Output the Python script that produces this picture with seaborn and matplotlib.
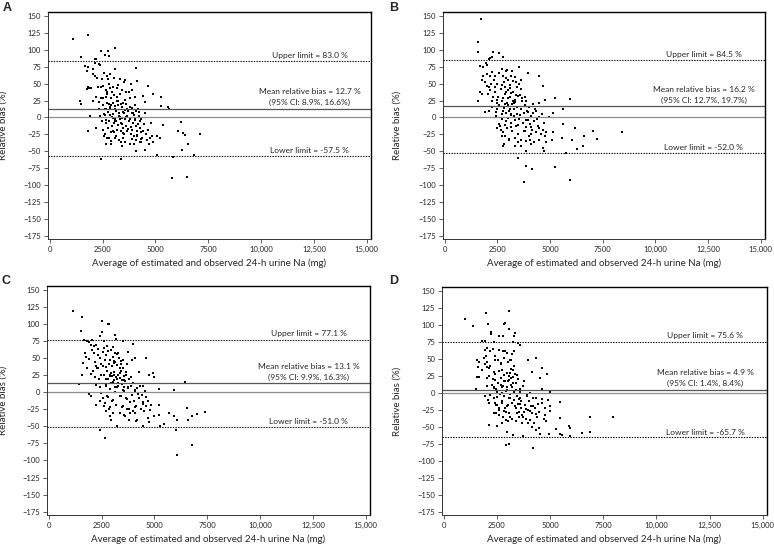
import matplotlib
matplotlib.use("Agg")
import matplotlib.pyplot as plt
import pandas as pd
import seaborn as sns

sns.set_style("ticks")
plt.rcParams["font.family"] = ["Lato", "DejaVu Sans"]

# (mean of estimated & observed Na in mg, relative bias in %)
panel_a_points = [
    (1120, 116), (1790, 122), (3070, 103), (2430, 99), (2760, 98), (2620, 92), (2820, 91), (1480, 90),
    (2120, 87), (2180, 87), (2150, 81), (1680, 76), (1810, 74), (2310, 79), (2390, 77), (3100, 72),
    (4070, 73), (2070, 72), (1780, 69), (2030, 64), (2150, 62), (2560, 66), (2700, 62), (2850, 64),
    (3030, 59), (3310, 57), (3500, 52), (3560, 55), (4150, 54), (2460, 57), (2780, 57), (2250, 59),
    (1810, 45), (1840, 43), (1970, 44), (1780, 42), (2430, 45), (2540, 47), (2850, 44), (3170, 44),
    (3400, 40), (3840, 50), (3900, 40), (4660, 46), (2670, 40), (2930, 37), (3310, 34), (3730, 37),
    (2070, 24), (2310, 23), (2540, 28), (2730, 34), (4410, 32), (4880, 34), (5260, 30), (1440, 25),
    (1480, 20), (2820, 20), (3010, 21), (3170, 24), (3560, 26), (4020, 30), (4490, 23), (3090, 17),
    (3240, 18), (2670, 12), (2870, 12), (5270, 17), (5580, 16), (5630, 13), (3680, 12), (3900, 7),
    (4210, 8), (4490, 6), (1890, 2), (2620, 4), (2930, 1), (3320, 1), (3630, 0), (4020, -2),
    (4340, -3), (4800, -8), (2670, -4), (3090, -6), (3400, -10), (3840, -14), (1790, -20), (2200, -15),
    (2540, -18), (3010, -20), (3480, -23), (3900, -18), (5350, -11), (6070, -20), (6210, -7), (6300, -23),
    (6380, -26), (7130, -25), (2570, -27), (2810, -31), (3090, -31), (3480, -31), (4150, -28), (4370, -30),
    (4840, -27), (5090, -28), (5200, -31), (2670, -40), (2900, -40), (3370, -36), (3400, -43), (3810, -40),
    (4000, -40), (4340, -37), (4490, -49), (4700, -40), (4880, -36), (4100, -50), (2420, -62), (3370, -61),
    (5090, -56), (5820, -59), (6520, -40), (6260, -49), (6830, -56), (5800, -89), (6490, -88),
    (2650, 30), (2700, 22), (2750, 8), (2800, -5), (2850, 15), (2900, 28), (2950, -12), (3000, 5),
    (3050, 33), (3100, -3), (3150, 10), (3200, -18), (3250, 25), (3300, 2), (3350, -8), (3400, 15),
    (3450, -15), (3500, 6), (3550, -2), (3600, 20), (3650, -20), (3700, 9), (3750, -6), (3800, 28),
    (3850, -25), (3900, 14), (3950, -9), (4000, 3), (4050, 18), (4100, -12), (4150, -20), (4200, 12),
    (4250, -5), (4300, -22), (2600, 12), (2680, -8), (2720, 38), (2780, -15), (2830, 3), (2880, -22),
    (2920, 18), (2980, -1), (3020, -9), (3080, 12), (3130, -6), (3180, 30), (3230, -11), (3280, 7),
    (3320, -3), (3380, 20), (3430, -1), (3480, 8), (3530, -24), (3580, 11), (3620, -12), (3680, 2),
    (3720, -17), (3780, 16), (3820, -2), (3880, -19), (3930, 6), (3980, -28), (4030, -4), (4080, 10),
    (4130, -26), (4180, -10), (4230, 2), (4280, -15), (4330, -32), (4400, -20), (4450, -10), (4550, -25),
    (4600, -33), (4650, -18), (4750, -30), (2550, 5), (2500, 18), (2450, 28), (2400, 2), (2350, 12),
    (2480, -6), (2600, -25), (2700, -30), (2900, -35), (3150, -28), (3300, -33), (3550, -36), (3000, 45),
    (3250, 48), (3600, 38), (2800, 50), (3900, -32), (4100, -34), (4250, -37), (2300, 45), (2200, 30),
    (3450, 22), (3050, -22), (3350, -20),
]

panel_b_points = [
    (1720, 145), (1580, 111), (1580, 97), (1580, 24), (2280, 97), (2560, 95), (2790, 89), (2150, 88),
    (2230, 89), (2090, 86), (1670, 76), (1810, 74), (1970, 80), (2030, 77), (3520, 75), (3950, 66),
    (4480, 61), (1810, 61), (2000, 64), (2260, 67), (2390, 61), (2710, 71), (2930, 68), (3210, 68),
    (3400, 53), (3640, 56), (1760, 56), (1920, 52), (2000, 47), (2500, 49), (2850, 45), (4650, 46),
    (1690, 38), (1790, 35), (2150, 40), (2390, 37), (2930, 38), (3170, 36), (3590, 33), (3790, 30),
    (5230, 29), (5930, 27), (2230, 25), (2470, 26), (2700, 24), (3010, 28), (3320, 23), (4180, 20),
    (4490, 22), (4760, 26), (1920, 8), (2080, 9), (2470, 13), (2750, 10), (2930, 7), (3170, 5),
    (3560, 4), (3950, 8), (4340, 9), (5150, 6), (5620, 13), (2430, 2), (2700, -2), (3010, -1),
    (3320, -4), (3870, -4), (4490, 1), (4960, 0), (2620, -12), (2860, -11), (3170, -14), (3480, -11),
    (2460, -15), (3790, -20), (4100, -14), (4490, -16), (4800, -21), (5160, -21), (5630, -10), (6180, -15),
    (7050, -20), (7210, -32), (8420, -21), (2730, -27), (2820, -40), (2780, -42), (3030, -33), (3340, -42),
    (3480, -36), (3640, -43), (3840, -50), (4060, -34), (4230, -36), (4490, -34), (4650, -45), (4700, -50),
    (4800, -36), (5090, -33), (5590, -31), (6050, -33), (5770, -52), (6300, -47), (6580, -43), (6610, -27),
    (3460, -60), (3840, -72), (4120, -76), (5240, -74), (3740, -96), (5970, -92),
    (2550, 30), (2600, 18), (2650, 42), (2700, 5), (2750, 28), (2800, 14), (2850, 35), (2900, -5),
    (2950, 22), (3000, 40), (3050, 10), (3100, 30), (3150, -8), (3200, 20), (3250, 38), (3300, 2),
    (3350, 26), (3400, -12), (3450, 15), (3500, 32), (3550, -3), (3600, 12), (3650, 24), (3700, -9),
    (3750, 6), (3800, 18), (3850, -14), (3900, 9), (3950, -4), (4000, 15), (4050, -10), (4100, 2),
    (4150, -18), (4200, 7), (4250, -6), (4300, 12), (4350, -22), (4400, -2), (4450, -12), (4550, -25),
    (4600, 5), (4650, -18), (4700, -8), (4750, -28), (2500, 22), (2450, 8), (2400, 45), (2350, 55),
    (2300, 30), (2250, 15), (2200, 50), (2150, 62), (2100, 45), (2050, 35), (2580, -10), (2680, -18),
    (2780, -22), (2880, 20), (2980, -15), (3080, 44), (3180, -20), (3280, 12), (3380, 33), (3480, -25),
    (3580, 4), (3680, 28), (3780, -20), (3880, 25), (3980, -28), (4080, -24), (2720, 48), (2820, 52),
    (2920, 58), (3020, 55), (3120, 48), (3220, 54), (3320, 60), (3420, 45), (3520, 50), (3620, 42),
    (2600, 65), (2750, 62), (2950, 70), (3150, 62), (3350, -30), (3600, -33), (3850, -35), (4100, -40),
    (2850, -28), (3050, -32), (3250, 25), (3000, 18), (3100, 12), (3300, 22), (3450, 5), (3150, 3),
]

panel_c_points = [
    (1150, 119), (1560, 110), (1510, 90), (2520, 105), (2800, 100), (2860, 100), (2530, 88), (2410, 82),
    (3160, 84), (3190, 78), (2640, 76), (3520, 76), (1680, 77), (1820, 75), (1930, 74), (2060, 77),
    (2250, 69), (2010, 69), (2140, 68), (2340, 64), (2560, 59), (3050, 66), (3300, 58), (3980, 71),
    (3760, 59), (1700, 57), (1780, 52), (1900, 49), (1620, 43), (1820, 36), (1590, 25), (2250, 39),
    (2330, 36), (2480, 41), (2720, 37), (2920, 47), (3110, 43), (3430, 46), (3690, 41), (3950, 47),
    (4060, 51), (4610, 50), (4290, 30), (2010, 27), (2170, 23), (2480, 26), (2720, 20), (2880, 24),
    (3110, 26), (3350, 21), (3580, 18), (3900, 23), (4750, 25), (4950, 28), (5000, 23), (1430, 12),
    (2250, 11), (2410, 8), (2720, 10), (2960, 14), (3220, 8), (3510, 4), (3740, 6), (4060, 4),
    (4450, 9), (5200, 5), (5910, 4), (6430, 15), (1930, -3), (2010, -6), (2480, -1), (2800, -7),
    (3030, -11), (3350, -6), (3660, -8), (4210, -3), (4610, -7), (2410, -13), (2640, -20), (2880, -21),
    (3510, -20), (3690, -25), (4060, -21), (4450, -17), (4840, -18), (5230, -18), (2220, -19), (2720, -28),
    (2880, -35), (2960, -40), (3240, -49), (3550, -33), (3820, -40), (4170, -40), (4450, -49), (4680, -38),
    (4760, -44), (5000, -35), (5230, -33), (5270, -49), (5470, -46), (5690, -30), (5930, -35), (6020, -55),
    (6070, -40), (6520, -23), (6600, -40), (6770, -35), (7010, -32), (7400, -29), (2440, -56), (2670, -67),
    (6080, -92), (6780, -78),
    (2550, 38), (2600, 25), (2650, 48), (2700, 12), (2750, 32), (2800, 20), (2850, 42), (2900, 5),
    (2950, 28), (3000, 38), (3050, 15), (3100, 30), (3150, 0), (3200, 22), (3250, 40), (3300, 10),
    (3350, 28), (3400, -5), (3450, 18), (3500, 35), (3550, 2), (3600, 16), (3650, 26), (3700, -10),
    (3750, 8), (3800, 20), (3850, -14), (3900, 10), (3950, -4), (4000, 14), (4050, -12), (4100, 2),
    (4150, -20), (4200, 6), (4250, -8), (4300, 10), (4350, -24), (4400, -4), (4450, -14), (4500, -28),
    (4550, 2), (4600, -20), (4700, -12), (4800, -26), (2450, 50), (2400, 20), (2350, 55), (2300, 35),
    (2200, 45), (2150, 58), (2100, 32), (2050, 62), (2580, -8), (2680, -15), (2780, -5), (2880, 26),
    (2980, -12), (3080, 46), (3180, -18), (3280, 14), (3380, 36), (3480, -22), (3580, 8), (3680, 30),
    (3780, -24), (3880, 22), (3980, -28), (4080, -30), (2720, 55), (2820, 60), (2920, 48), (3020, 52),
    (3120, 44), (3220, 56), (3320, 50), (3420, 42), (3520, 47), (2600, 65), (2780, 68), (2950, 62),
    (3150, 58), (3350, -30), (3600, -35), (3850, -30), (4150, -42), (2850, -25), (3050, -30), (3250, 20),
    (3000, 24), (3100, 18), (3300, 26), (3450, 12), (3150, 8), (3400, 32), (3550, 24),
]

panel_d_points = [
    (1020, 109), (1370, 98), (2010, 118), (3060, 121), (2070, 101), (2830, 101), (2860, 103), (2210, 89),
    (2240, 87), (2590, 84), (3080, 94), (2810, 84), (3340, 88), (3310, 84), (1920, 77), (1810, 76),
    (2360, 75), (3490, 74), (3610, 70), (3270, 75), (2040, 66), (1960, 63), (2170, 61), (2310, 64),
    (2590, 63), (2780, 61), (2980, 59), (3300, 61), (1550, 49), (1650, 46), (1880, 52), (2040, 46),
    (2430, 49), (2690, 44), (3140, 49), (3970, 48), (4360, 52), (4600, 36), (1630, 38), (1810, 34),
    (2120, 36), (2360, 31), (2750, 34), (2980, 29), (3250, 33), (3450, 26), (4160, 31), (4870, 28),
    (4510, 22), (1570, 24), (1680, 24), (2040, 22), (2430, 19), (2830, 17), (3060, 19), (3380, 14),
    (3770, 17), (4630, 6), (5020, 2), (1520, 5), (2040, 10), (2360, 7), (2750, 8), (2980, 4),
    (3220, 8), (3580, 2), (4080, 0), (1960, -5), (2200, -3), (2510, -6), (2830, -5), (3140, -8),
    (3530, -9), (3930, -5), (4320, -8), (4630, -9), (4910, -10), (2150, -15), (2460, -18), (2750, -15),
    (2980, -19), (3380, -23), (3610, -16), (3850, -24), (4190, -20), (4440, -16), (4740, -23), (4980, -19),
    (5020, -27), (5450, -14), (2360, -30), (2590, -32), (2830, -27), (3140, -35), (3450, -30), (3720, -36),
    (4050, -27), (4320, -31), (4760, -32), (5460, -37), (2120, -47), (2510, -49), (2750, -45), (3030, -41),
    (3690, -44), (4160, -50), (4360, -54), (4470, -52), (4790, -42), (2970, -58), (3250, -62), (3750, -63),
    (4550, -61), (4970, -61), (5280, -53), (5460, -60), (5540, -62), (5890, -49), (5930, -64), (6480, -59),
    (6860, -36), (6860, -57), (7960, -36), (2920, -77), (3060, -75), (4220, -81), (5950, -52),
    (2300, 20), (2350, -8), (2400, 28), (2450, 5), (2500, -18), (2550, 15), (2600, 32), (2650, -2),
    (2700, 22), (2750, -12), (2800, 10), (2850, 26), (2900, -22), (2950, 3), (3000, 18), (3050, -8),
    (3100, 30), (3150, 12), (3200, -15), (3250, 24), (3300, 2), (3350, -20), (3400, 14), (3450, -5),
    (3500, 20), (3550, -28), (3600, 6), (3650, -12), (3700, -32), (3750, 10), (3800, -18), (3850, -38),
    (3900, -2), (3950, -25), (4000, -12), (4050, -40), (4100, -20), (4150, -30), (4200, -8), (4250, -45),
    (4300, -22), (4400, -35), (4500, -28), (4600, -15), (4700, -38), (2200, 40), (2250, 12), (2150, 25),
    (2100, -10), (2050, 38), (2000, 55), (1950, 42), (2400, 55), (2550, 48), (2700, 42), (2850, 52),
    (3000, 45), (3150, 48), (3300, 40), (2480, -30), (2620, -25), (2780, -35), (2920, -40), (3080, -30),
    (3220, -38), (3380, -42), (3520, -35), (3680, -45), (2380, 8), (2520, 2), (2680, 12), (2820, -5),
    (2980, 8), (3120, -2), (3280, 15), (3420, 4), (3580, -8), (2420, -15), (2580, -22), (2720, 0),
    (2880, 18), (3020, -18), (3180, 22), (3320, -10), (3480, -16), (3620, -22), (3780, -28), (3950, -45),
    (2900, 62), (3200, 58), (3150, 35), (3050, 25), (3250, 33), (2950, -28), (3350, 28),
]

panel_letters = ["A", "B", "C", "D"]
mean_bias = [12.7, 16.2, 13.1, 4.9]
ci_low = [8.9, 12.7, 9.9, 1.4]
ci_high = [16.6, 19.7, 16.3, 8.4]
upper_limit = [83.0, 84.5, 77.1, 75.6]
lower_limit = [-57.5, -52.0, -51.0, -65.7]

x_ticks = [0, 2500, 5000, 7500, 10000, 12500, 15000]
x_tick_labels = ["0", "2500", "5000", "7500", "10,000", "12,500", "15,000"]
y_ticks = list(range(-175, 151, 25))

W, H = 774, 547
# axes boxes in pixels: left, top, right, bottom
boxes = [(48, 12, 371, 239), (443, 12, 765, 239), (47, 286, 370, 515), (442, 287, 767, 515)]
letter_pos = [(3, 2), (389, 2), (1, 275), (389, 275)]
ylabel_px = [8, 402, 8, 402]

fig = plt.figure(figsize=(W / 100, H / 100), dpi=100)
all_points = [panel_a_points, panel_b_points, panel_c_points, panel_d_points]

for i, pts in enumerate(all_points):
    l, t, r, b = boxes[i]
    ax = fig.add_axes([l / W, 1 - b / H, (r - l) / W, (b - t) / H])
    df = pd.DataFrame(pts, columns=["avg", "bias"])
    sns.scatterplot(data=df, x="avg", y="bias", ax=ax, color="black", marker="s",
                    s=1.7, linewidth=0)

    ax.axhline(0, color="#8f8f8f", lw=0.9)
    ax.axhline(mean_bias[i], color="#555555", lw=0.9)
    ax.axhline(upper_limit[i], color="black", lw=0.8, ls=(0, (1.2, 1.2)))
    ax.axhline(lower_limit[i], color="black", lw=0.8, ls=(0, (1.2, 1.2)))

    tx = 12300
    fs = 6
    ax.text(tx, upper_limit[i] + 9, f"Upper limit = {upper_limit[i]:.1f} %", ha="center", va="center", fontsize=fs)
    ax.text(tx, lower_limit[i] + 8, f"Lower limit = {lower_limit[i]:.1f} %", ha="center", va="center", fontsize=fs)
    ax.text(tx, mean_bias[i] + 25, f"Mean relative bias = {mean_bias[i]:.1f} %", ha="center", va="center", fontsize=fs)
    ax.text(tx, mean_bias[i] + 9.5, f"(95% CI: {ci_low[i]:.1f}%, {ci_high[i]:.1f}%)", ha="center", va="center", fontsize=fs)

    ax.set_xlim(-80, 15200)
    ax.set_ylim(-180, 156)
    ax.set_xticks(x_ticks)
    ax.set_xticklabels(x_tick_labels)
    ax.set_yticks(y_ticks)
    ax.tick_params(axis="both", labelsize=5.5, length=3, width=0.6, pad=2, color="#444444")
    for side in ["left", "bottom"]:
        ax.spines[side].set_linewidth(0.7)
        ax.spines[side].set_color("#333333")
    for side in ["top", "right"]:
        ax.spines[side].set_visible(True)
        ax.spines[side].set_linewidth(1.0)
        ax.spines[side].set_color("black")

    ax.set_xlabel("Average of estimated and observed 24-h urine Na (mg)", fontsize=7, labelpad=4)
    ax.set_ylabel("Relative bias (%)", fontsize=7)
    ax.yaxis.set_label_coords((ylabel_px[i] - l) / (r - l), 0.5)

    lx, ly = letter_pos[i]
    fig.text(lx / W, 1 - ly / H, panel_letters[i], fontsize=9, fontweight="bold", ha="left", va="top",
             family=["Liberation Sans", "DejaVu Sans"])

fig.savefig("out.png", dpi=100)
